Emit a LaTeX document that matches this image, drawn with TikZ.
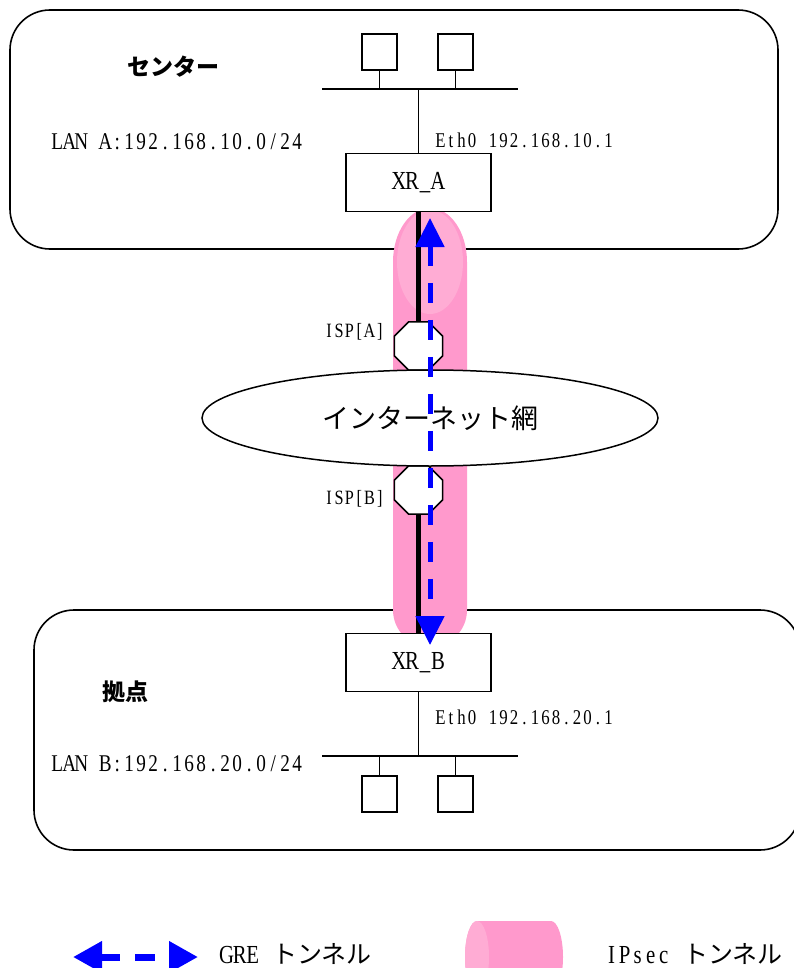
\documentclass[tikz,border=0pt]{standalone}
\usepackage{fontspec}
\setmainfont{Liberation Serif}[FakeStretch=0.8]
\newfontfamily\jp{Noto Sans CJK JP}
\usetikzlibrary{shapes.geometric,arrows.meta}
\definecolor{ipsec}{RGB}{255,153,204}
\definecolor{ipsecface}{RGB}{255,172,212}
\def\monoquark{\monoquark}
\def\monoch#1{\ifx#1\monoquark\else\makebox[0.5em][c]{#1}\expandafter\monoch\fi}
\newcommand\mono[1]{\monoch#1\monoquark}
\tikzset{
  site/.style={draw, line width=1.6pt, rounded corners=40pt, inner sep=0pt},
  router/.style={draw, line width=1.5pt, fill=white, minimum width=145pt, minimum height=58pt, inner sep=0pt, font=\fontsize{26pt}{30pt}\selectfont},
  pc/.style={draw, line width=1.5pt, fill=white, minimum width=35pt, minimum height=36pt, inner sep=0pt},
  isp/.style={draw, line width=1.5pt, fill=white, regular polygon, regular polygon sides=8, minimum size=52pt, inner sep=0pt},
  cloud/.style={draw, line width=1.5pt, fill=white, ellipse, minimum width=456pt, minimum height=96pt, inner sep=0pt, font=\jp\fontsize{27pt}{31pt}\selectfont},
  net/.style={line width=1.5pt},
  ppp/.style={line width=4.5pt},
  gre/.style={blue, line width=5pt, dash pattern=on 20pt off 17pt, {Triangle[length=29pt,width=28pt]}-{Triangle[length=29pt,width=28pt]}},
  legendgre/.style={blue, line width=7pt, dash pattern=on 20pt off 15pt, {Triangle[length=29pt,width=30pt]}-{Triangle[length=29pt,width=30pt]}},
  lbl/.style={inner sep=0pt},
  lanfont/.style={font=\fontsize{24pt}{28pt}\selectfont},
  ethfont/.style={font=\fontsize{21pt}{25pt}\selectfont},
  ispfont/.style={font=\fontsize{20.3pt}{24pt}\selectfont},
  sitefont/.style={font=\jp\bfseries\fontsize{23pt}{27pt}\selectfont},
  legfont/.style={font=\fontsize{26pt}{30pt}\selectfont},
}
\begin{document}
\begin{tikzpicture}[x=1pt,y=-1pt]
\useasboundingbox (0,0) rectangle (794,968);
\fill[white] (0,0) rectangle (794,968);
\begin{scope}
\clip (0,0) rectangle (794,968);
% sites
\node[site, minimum width=768pt, minimum height=239pt] (siteA) at (394,129.5) {};
\node[site, minimum width=766pt, minimum height=240pt] (siteB) at (417,730) {};
% IPsec tunnel (pink cylinder)
\fill[ipsec] (393,262) arc[start angle=180, end angle=0, x radius=37pt, y radius=54pt]
  -- (467,610) arc[start angle=0, end angle=-180, x radius=37pt, y radius=37pt] -- cycle;
\fill[ipsecface] (430,262) ellipse[x radius=33pt, y radius=52pt];
% LAN bars
\coordinate (lanA1) at (322,89);
\coordinate (lanA2) at (518,89);
\coordinate (lanB1) at (322,756);
\coordinate (lanB2) at (518,756);
\draw[net] (lanA1) -- (lanA2);
\draw[net] (lanB1) -- (lanB2);
% PCs
\node[pc] (pcA1) at (379.5,52) {};
\node[pc] (pcA2) at (455.5,52) {};
\node[pc] (pcB1) at (379.5,794) {};
\node[pc] (pcB2) at (455.5,794) {};
% routers
\node[router] (xrA) at (418.5,182.5) {\mono{XR\_A}};
\node[router] (xrB) at (418.5,662.5) {\mono{XR\_B}};
% ISP
\node[isp] (ispA) at (418.5,346) {};
\node[isp] (ispB) at (418.5,490) {};
% internet
\node[cloud] (inet) at (430,418) {インターネット網};
% connectors
\draw[net] (pcA1.south) -- (pcA1.south |- lanA1);
\draw[net] (pcA2.south) -- (pcA2.south |- lanA1);
\draw[net] (xrA.north) -- (xrA.north |- lanA1);
\draw[net] (pcB1.north) -- (pcB1.north |- lanB1);
\draw[net] (pcB2.north) -- (pcB2.north |- lanB1);
\draw[net] (xrB.south) -- (xrB.south |- lanB1);
\draw[ppp] (xrA.south) -- (ispA.north);
\draw[ppp] (ispB.south) -- (xrB.north);
% GRE tunnel
\coordinate (greA) at (430,218);
\coordinate (greB) at (430,645);
\draw[gre] (greA) -- (greB);
% labels
\node[lbl, sitefont] (lblA) at (173,67) {センター};
\node[lbl, sitefont] (lblB) at (125,692) {拠点};
\node[lbl, lanfont, anchor=west] (lanAtxt) at (51,142) {\mono{LAN~A:192.168.10.0/24}};
\node[lbl, lanfont, anchor=west] (lanBtxt) at (51,764) {\mono{LAN~B:192.168.20.0/24}};
\node[lbl, ethfont, anchor=west] (ethA) at (435,140) {\mono{Eth0~192.168.10.1}};
\node[lbl, ethfont, anchor=west] (ethB) at (435,717) {\mono{Eth0~192.168.20.1}};
\node[lbl, ispfont, anchor=east] (ispAtxt) at (385,332) {\mono{ISP[A]}};
\node[lbl, ispfont, anchor=east] (ispBtxt) at (385,499) {\mono{ISP[B]}};
% legend
\coordinate (legL) at (73,957);
\coordinate (legR) at (198,957);
\draw[legendgre] (legL) -- (legR);
\node[lbl, legfont, anchor=base west] (greTxt) at (220,963) {\mono{GRE~}{\jp\fontsize{25pt}{29pt}\selectfont トンネル}};
\fill[ipsec] (477,921) -- (551,921) arc[start angle=90, end angle=-90, x radius=12pt, y radius=36pt]
  -- (477,993) arc[start angle=270, end angle=90, x radius=12pt, y radius=36pt] -- cycle;
\fill[ipsecface] (477,957) ellipse[x radius=12pt, y radius=36pt];
\node[lbl, legfont, anchor=base west] (ipsecTxt) at (605,963) {\mono{IPsec~}{\jp\fontsize{25pt}{29pt}\selectfont トンネル}};
\end{scope}
\end{tikzpicture}
\end{document}
